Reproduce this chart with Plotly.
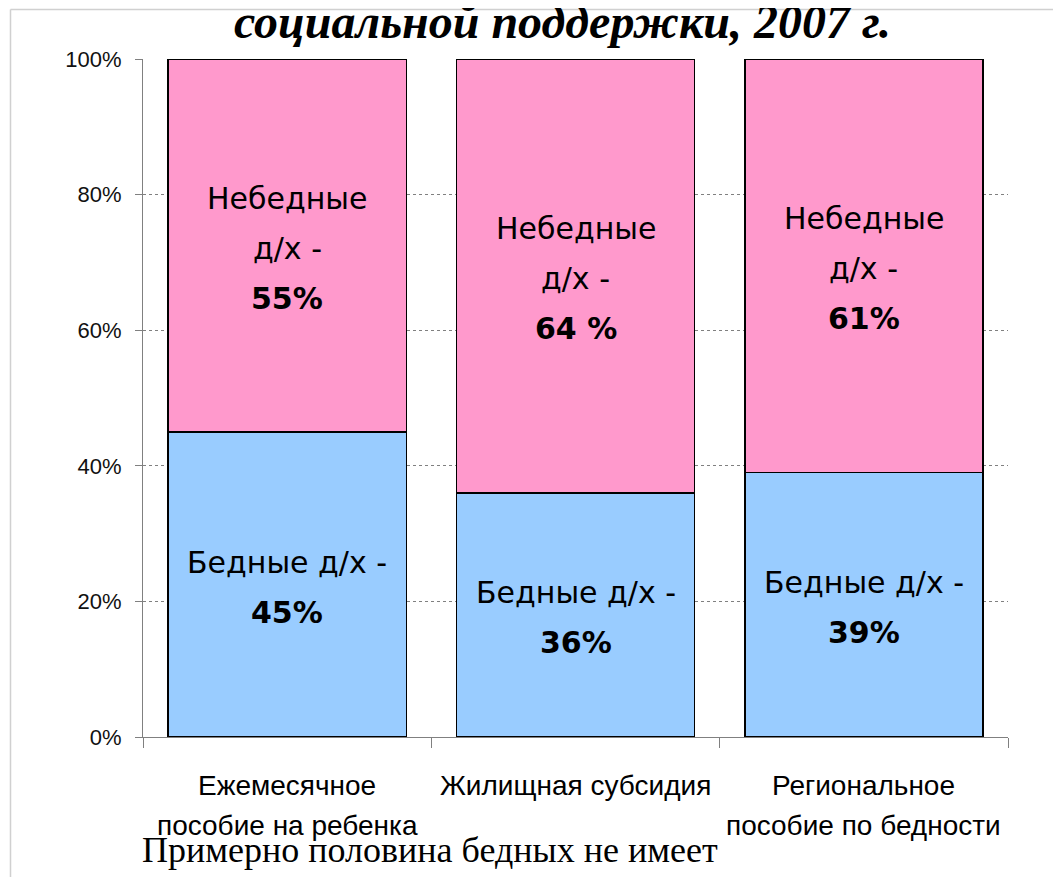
import plotly.graph_objects as go

# ---- data ----
categories = ["Ежемесячное пособие на ребенка", "Жилищная субсидия", "Региональное пособие по бедности"]
cat_line1 = ["Ежемесячное", "Жилищная субсидия", "Региональное"]
cat_line2 = ["пособие на ребенка", "", "пособие по бедности"]
poor = [45, 36, 39]
nonpoor = [55, 64, 61]
poor_pct_labels = ["45%", "36%", "39%"]
nonpoor_pct_labels = ["55%", "64 %", "61%"]
y_ticks = [0, 20, 40, 60, 80, 100]
y_tick_labels = ["0%", "20%", "40%", "60%", "80%", "100%"]
title_text = "социальной поддержки, 2007 г."
bottom_text = "Примерно половина бедных не имеет"

# ---- layout geometry (screen pixels; page body has an 8px margin) ----
OFF = 8
W, H = 1061, 877
plot_left, plot_right, plot_top, plot_bottom = 143, 1008, 59, 737
L = plot_left - OFF
T = plot_top - OFF
R = W - (plot_right - OFF)
B = H - (plot_bottom - OFF)
PW, PH = plot_right - plot_left, plot_bottom - plot_top


def px_to_paper_x(px):
    return (px - plot_left) / PW


def px_to_paper_y(py):
    return (plot_bottom - py) / PH


SANS = "Liberation Sans, Arial, sans-serif"
LABEL_FONT = "DejaVu Sans, Verdana, Tahoma, sans-serif"
SERIF = "Liberation Serif, Times New Roman, serif"

fig = go.Figure()
fig.add_trace(go.Bar(
    x=categories, y=poor, name="Бедные",
    marker=dict(color="#99CCFF", line=dict(color="black", width=1.5)),
    hoverinfo="skip",
))
fig.add_trace(go.Bar(
    x=categories, y=nonpoor, name="Небедные",
    marker=dict(color="#FF99CC", line=dict(color="black", width=1.5)),
    hoverinfo="skip",
))

annotations = []
# labels inside bars
for i, cat in enumerate(categories):
    c_poor = poor[i] / 2
    c_non = poor[i] + nonpoor[i] / 2
    for txt, off, bold in [("Небедные", -47, False), ("д/х -", 3, False),
                           (nonpoor_pct_labels[i], 53, True)]:
        annotations.append(dict(
            x=cat, y=c_non, xref="x", yref="y", yshift=-off,
            text=f"<b>{txt}</b>" if bold else txt, showarrow=False,
            font=dict(family=LABEL_FONT, size=30, color="black"),
            xanchor="center", yanchor="middle"))
    for txt, off, bold in [("Бедные д/х -", -22, False), (poor_pct_labels[i], 28, True)]:
        annotations.append(dict(
            x=cat, y=c_poor, xref="x", yref="y", yshift=-off,
            text=f"<b>{txt}</b>" if bold else txt, showarrow=False,
            font=dict(family=LABEL_FONT, size=30, color="black"),
            xanchor="center", yanchor="middle"))

# category labels (two rows)
for i, cat in enumerate(categories):
    annotations.append(dict(
        x=cat, y=px_to_paper_y(785), xref="x", yref="paper",
        text=cat_line1[i], showarrow=False,
        font=dict(family=SANS, size=28, color="black"),
        xanchor="center", yanchor="middle"))
    if cat_line2[i]:
        annotations.append(dict(
            x=cat, y=px_to_paper_y(825), xref="x", yref="paper",
            text=cat_line2[i], showarrow=False,
            font=dict(family=SANS, size=28, color="black"),
            xanchor="center", yanchor="middle"))

# title (cut at top) and bottom caption
annotations.append(dict(
    x=px_to_paper_x(562), y=px_to_paper_y(22), xref="paper", yref="paper",
    text=f"<b><i>{title_text}</i></b>", showarrow=False,
    font=dict(family=SERIF, size=48, color="black"),
    xanchor="center", yanchor="middle"))
annotations.append(dict(
    x=px_to_paper_x(430), y=px_to_paper_y(850), xref="paper", yref="paper",
    text=bottom_text, showarrow=False,
    font=dict(family=SERIF, size=36, color="black"),
    xanchor="center", yanchor="middle"))

shapes = [
    dict(type="line", xref="paper", yref="paper", layer="below",
         x0=px_to_paper_x(10.5), y0=px_to_paper_y(9.5),
         x1=px_to_paper_x(W + 20), y1=px_to_paper_y(9.5),
         line=dict(color="#d0d0d0", width=1.5)),
    dict(type="line", xref="paper", yref="paper", layer="below",
         x0=px_to_paper_x(10.5), y0=px_to_paper_y(9.5),
         x1=px_to_paper_x(10.5), y1=px_to_paper_y(H + 20),
         line=dict(color="#d0d0d0", width=1.5)),
]

fig.update_layout(
    width=W, height=H,
    margin=dict(l=L, r=R, t=T, b=B, pad=0),
    paper_bgcolor="white", plot_bgcolor="white",
    barmode="stack", bargap=0.174,
    showlegend=False,
    annotations=annotations,
    shapes=shapes,
    xaxis=dict(
        type="category", range=[-0.5, 2.5],
        showline=True, linecolor="#808080", linewidth=1,
        ticks="outside", ticklen=10, tickcolor="#808080", tickwidth=1,
        tickson="boundaries", showticklabels=False, showgrid=False,
        zeroline=False, fixedrange=True,
    ),
    yaxis=dict(
        range=[0, 100], tickvals=y_ticks, ticktext=y_tick_labels,
        showline=True, linecolor="#808080", linewidth=1,
        ticks="outside", ticklen=7, tickcolor="#808080", tickwidth=1,
        showgrid=True, gridcolor="#808080", griddash="dot", gridwidth=1,
        zeroline=False,
        tickfont=dict(family=SANS, size=22, color="#111111"),
        ticklabelstandoff=9, fixedrange=True,
    ),
)

fig.write_html("out.html")
